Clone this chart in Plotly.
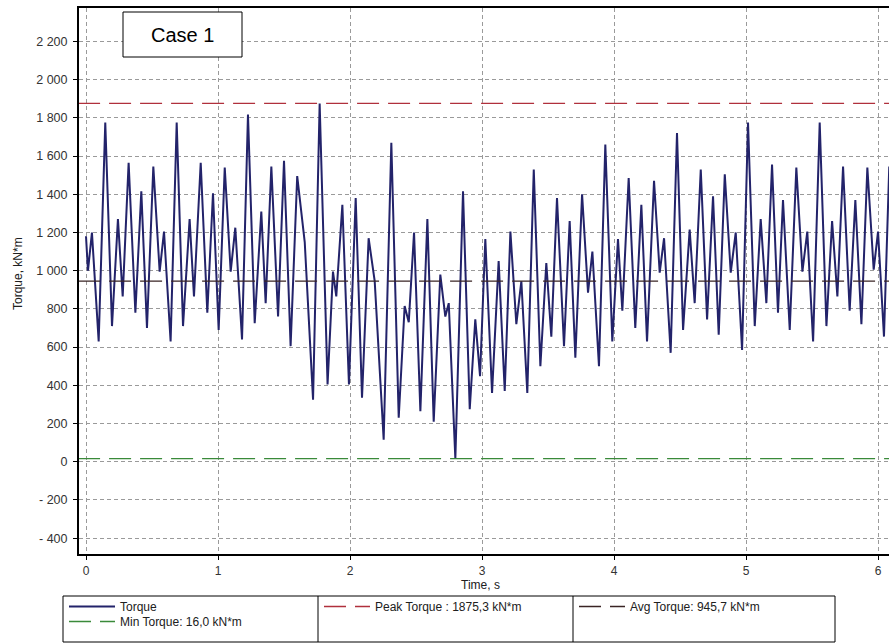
import plotly.graph_objects as go

# Shaft torque record, Case 1 (turning points of the trace)
time_s = [
    0.000, 0.015, 0.045, 0.096, 0.146, 0.197, 0.242, 0.278, 0.323, 0.374,
    0.419, 0.462, 0.510, 0.558, 0.591, 0.641, 0.687, 0.735, 0.785, 0.818,
    0.869, 0.919, 0.962, 1.005, 1.051, 1.096, 1.131, 1.182, 1.227, 1.278,
    1.328, 1.361, 1.404, 1.455, 1.500, 1.550, 1.600, 1.657, 1.720, 1.770,
    1.830, 1.871, 1.896, 1.942, 1.992, 2.043, 2.091, 2.141, 2.187, 2.255,
    2.313, 2.369, 2.414, 2.445, 2.485, 2.533, 2.586, 2.634, 2.684, 2.722,
    2.748, 2.798, 2.856, 2.907, 2.949, 2.985, 3.025, 3.076, 3.126, 3.172,
    3.215, 3.260, 3.298, 3.343, 3.392, 3.442, 3.487, 3.525, 3.568, 3.621,
    3.664, 3.707, 3.758, 3.803, 3.836, 3.886, 3.934, 3.987, 4.030, 4.063,
    4.111, 4.161, 4.207, 4.250, 4.303, 4.346, 4.379, 4.429, 4.477, 4.523,
    4.573, 4.611, 4.657, 4.705, 4.750, 4.793, 4.839, 4.884, 4.922, 4.970,
    5.015, 5.066, 5.111, 5.154, 5.197, 5.242, 5.280, 5.331, 5.381, 5.427,
    5.464, 5.508, 5.558, 5.609, 5.652, 5.692, 5.735, 5.785, 5.828, 5.874,
    5.919, 5.967, 6.000, 6.045, 6.085,
]
torque_knm = [
    1180, 1000, 1200, 630, 1775, 710, 1270, 865, 1565, 780,
    1415, 700, 1545, 995, 1205, 630, 1775, 710, 1270, 865,
    1565, 780, 1405, 690, 1540, 995, 1225, 640, 1817, 725,
    1310, 830, 1545, 760, 1575, 605, 1495, 1150, 325, 1875.3,
    405, 995, 865, 1345, 405, 1380, 335, 1170, 945, 115,
    1670, 230, 815, 730, 1200, 265, 1270, 210, 980, 760,
    830, 16.0, 1415, 275, 745, 448, 1165, 360, 1050, 370,
    1205, 720, 945, 360, 1530, 500, 1040, 655, 1380, 605,
    1260, 545, 1400, 885, 1100, 500, 1660, 630, 1165, 790,
    1485, 700, 1345, 630, 1470, 990, 1170, 570, 1720, 690,
    1215, 830, 1530, 745, 1390, 665, 1505, 990, 1200, 585,
    1775, 710, 1270, 830, 1555, 780, 1370, 690, 1540, 995,
    1205, 630, 1775, 710, 1260, 865, 1545, 790, 1370, 720,
    1540, 1005, 1205, 655, 1545,
]

peak_torque = 1875.3
avg_torque = 945.7
min_torque = 16.0

y_ticks = list(range(-400, 2201, 200))
x_ticks = [0, 1, 2, 3, 4, 5, 6]


def spaced(v):
    s = f"{abs(v):,}".replace(",", " ")
    return ("- " + s) if v < 0 else s


def comma(v):
    return f"{v:.1f}".replace(".", ",")


y_ticktext = [spaced(v) for v in y_ticks]
t_span = [time_s[0] - 0.06, time_s[-1] + 0.06]

FONT = "Liberation Sans, Arial, sans-serif"
DASH = "22px,9px"

fig = go.Figure()
fig.add_trace(go.Scatter(
    x=time_s, y=torque_knm, mode="lines", name="Torque", legend="legend",
    line=dict(color="#23236a", width=2),
))
fig.add_trace(go.Scatter(
    x=t_span, y=[peak_torque, peak_torque], mode="lines", legend="legend2",
    name=f"Peak Torque : {comma(peak_torque)} kN*m",
    line=dict(color="#b0303c", width=1.3, dash=DASH),
))
fig.add_trace(go.Scatter(
    x=t_span, y=[avg_torque, avg_torque], mode="lines", legend="legend3",
    name=f"Avg Torque: {comma(avg_torque)} kN*m",
    line=dict(color="#3a2424", width=1.3, dash=DASH),
))
fig.add_trace(go.Scatter(
    x=t_span, y=[min_torque, min_torque], mode="lines", legend="legend4",
    name=f"Min Torque: {comma(min_torque)} kN*m",
    line=dict(color="#3a8a3a", width=1.3, dash=DASH),
))

# plot area: left 79px, top 8px, bottom 554px, runs to the right edge
L, T, B, W, H = 79, 8, 90, 889, 644
pw, ph = W - L, H - T - B


def px(x):
    return (x - L) / pw


def py(y):
    return (H - B - y) / ph


# legend table cells
cell_left = [63, 318, 573]
cell_right = 835
row_top = [592, 607]

shapes = [
    dict(type="rect", xref="paper", yref="paper", x0=px(cell_left[0]), x1=px(cell_right),
         y0=py(596), y1=py(642), line=dict(color="#000000", width=1)),
    dict(type="line", xref="paper", yref="paper", x0=px(cell_left[1]), x1=px(cell_left[1]),
         y0=py(596), y1=py(642), line=dict(color="#000000", width=1)),
    dict(type="line", xref="paper", yref="paper", x0=px(cell_left[2]), x1=px(cell_left[2]),
         y0=py(596), y1=py(642), line=dict(color="#000000", width=1)),
    # case label box
    dict(type="rect", xref="paper", yref="paper", x0=px(123), x1=px(242),
         y0=py(12), y1=py(57), fillcolor="#ffffff", layer="above",
         line=dict(color="#000000", width=1)),
]

annotations = [
    dict(text="Case 1", xref="paper", yref="paper", x=px(182.5), y=py(34.5),
         xanchor="center", yanchor="middle", showarrow=False,
         font=dict(family=FONT, size=20, color="#000000")),
    dict(text="Time, s", xref="paper", yref="paper", x=px(480), y=py(585),
         xanchor="center", yanchor="middle", showarrow=False,
         font=dict(family=FONT, size=12, color="#202020")),
    dict(text="Torque, kN*m", xref="paper", yref="paper", x=px(18), y=py(273),
         xanchor="center", yanchor="middle", textangle=-90, showarrow=False,
         font=dict(family=FONT, size=12, color="#202020")),
]

axis_style = dict(showgrid=True, gridcolor="#9a9a9a", griddash="4px,3px", gridwidth=1,
                  zeroline=False, showline=True, linecolor="#000000", linewidth=2,
                  ticks="outside", ticklen=4, tickcolor="#000000")


def legend_at(x_px, y_px):
    return dict(x=px(x_px), y=py(y_px), xanchor="left", yanchor="top",
                orientation="h", bgcolor="rgba(0,0,0,0)", itemwidth=46,
                font=dict(family=FONT, size=12, color="#202020"))


fig.update_layout(
    width=W, height=H,
    margin=dict(l=L, r=0, t=T, b=B, pad=0),
    paper_bgcolor="#ffffff", plot_bgcolor="#ffffff",
    font=dict(family=FONT, size=12, color="#202020"),
    xaxis=dict(range=[-0.053, 6.083], tickvals=x_ticks, mirror=True,
               ticklabelstandoff=1,
               tickfont=dict(family=FONT, size=12, color="#333333"), **axis_style),
    yaxis=dict(range=[-483, 2375], tickvals=y_ticks, ticktext=y_ticktext,
               ticklabelstandoff=3,
               tickfont=dict(family=FONT, size=12.5, color="#333333"), **axis_style),
    showlegend=True,
    legend=legend_at(cell_left[0] + 1, row_top[0]),
    legend2=legend_at(cell_left[1] + 1, row_top[0]),
    legend3=legend_at(cell_left[2] + 1, row_top[0]),
    legend4=legend_at(cell_left[0] + 1, row_top[1]),
    shapes=shapes,
    annotations=annotations,
)

fig.write_html("out.html")
